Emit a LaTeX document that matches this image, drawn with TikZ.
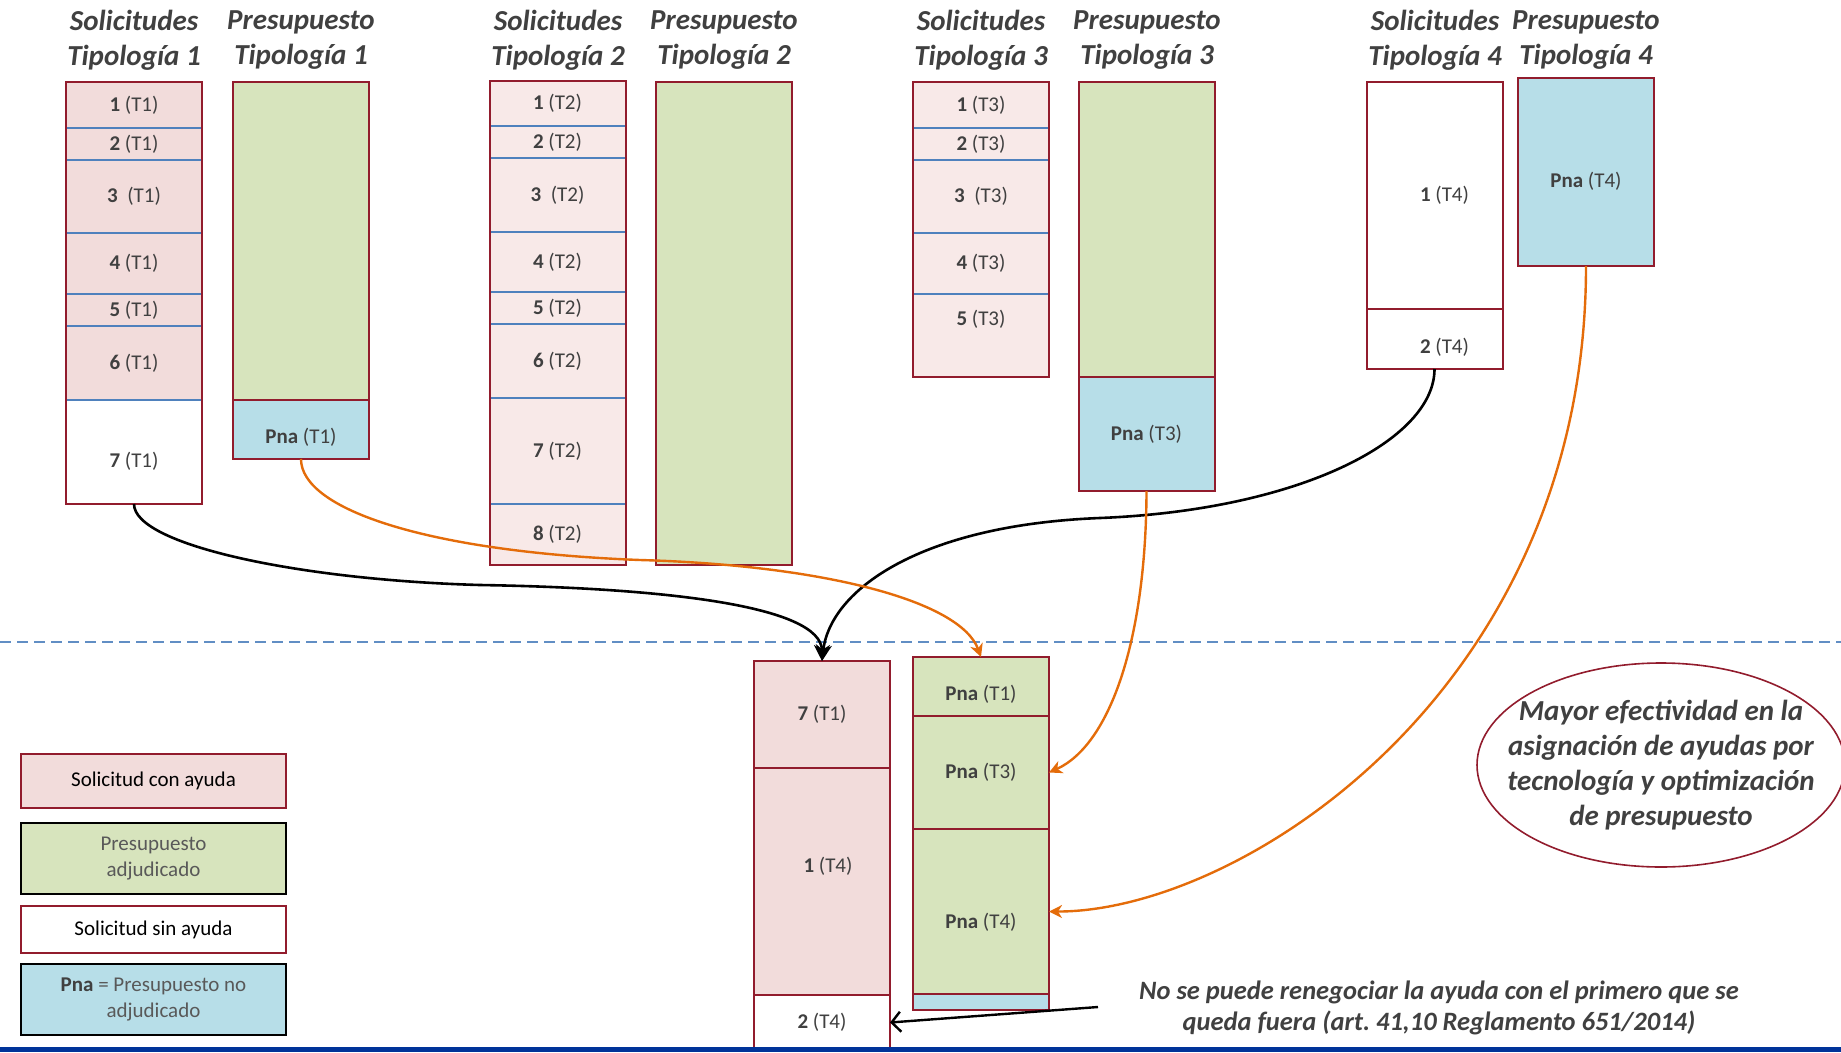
\documentclass[tikz,border=0pt]{standalone}
\usepackage{fontspec}
\setmainfont{Carlito}
\usetikzlibrary{arrows.meta,shapes.geometric}

\definecolor{framered}{RGB}{146,28,45}
\definecolor{pinkA}{RGB}{242,220,219}
\definecolor{pinkB}{RGB}{248,233,232}
\definecolor{budgetgreen}{RGB}{215,228,189}
\definecolor{pnablue}{RGB}{183,222,232}
\definecolor{divblue}{RGB}{79,129,189}
\definecolor{arrorange}{RGB}{228,108,10}
\definecolor{txtgray}{RGB}{64,64,64}
\definecolor{lightgray}{RGB}{89,89,89}
\definecolor{barnavy}{RGB}{0,51,153}

\newcommand{\etiq}[2]{\textbf{#1} #2}

\tikzset{
  title/.style={align=center, text=txtgray, font=\fontsize{29}{35}\selectfont\bfseries\itshape},
  cell/.style={minimum width=136pt, inner sep=0pt, outer sep=0pt, anchor=north, text=txtgray, font=\fontsize{21}{25}\selectfont},
  solA/.style={cell, fill=pinkA, draw=divblue, line width=1.6pt},
  solB/.style={cell, fill=pinkB, draw=divblue, line width=1.6pt},
  nosol/.style={cell, fill=white, draw=framered, line width=1.2pt},
  budget/.style={cell, fill=budgetgreen, draw=framered, line width=2pt},
  pna/.style={cell, fill=pnablue, draw=framered, line width=2pt},
  resA/.style={cell, fill=pinkA, draw=framered, line width=2pt},
  colframe/.style={draw=framered, line width=2pt},
  legend/.style={minimum width=265pt, inner sep=0pt, align=center, font=\fontsize{21}{26}\selectfont, line width=1.8pt},
  blackarr/.style={->, line width=2.6pt, black},
  orangearr/.style={->, line width=2.4pt, arrorange, >={Stealth[length=13pt,width=13pt,inset=4pt]}},
}

\begin{document}
\begin{tikzpicture}[x=1pt, y=-1pt, >={Stealth[length=16pt,width=16pt,inset=5pt]}]
        \useasboundingbox (0,0) rectangle (1841,1052);
        % cabeceras
        \node[title] (h1) at (134,40) {Solicitudes\\Tipología 1};
        \node[title] (h2) at (301,40) {Presupuesto\\Tipología 1};
        \node[title] (h3) at (558,40) {Solicitudes\\Tipología 2};
        \node[title] (h4) at (724,40) {Presupuesto\\Tipología 2};
        \node[title] (h5) at (981,40) {Solicitudes\\Tipología 3};
        \node[title] (h6) at (1147,40) {Presupuesto\\Tipología 3};
        \node[title] (h7) at (1435,40) {Solicitudes\\Tipología 4};
        \node[title] (h8) at (1586,40) {Presupuesto\\Tipología 4};
        % solicitudes tipologia 1
        \node[solA, minimum height=46pt] (s1a) at (134,82) {\etiq{1}{(T1)}};
        \node[solA, minimum height=32pt] (s1b) at (134,128) {\etiq{2}{(T1)}};
        \node[solA, minimum height=73pt] (s1c) at (134,160) {\etiq{3}{\ (T1)}};
        \node[solA, minimum height=61pt] (s1d) at (134,233) {\etiq{4}{(T1)}};
        \node[solA, minimum height=32pt] (s1e) at (134,294) {\etiq{5}{(T1)}};
        \node[solA, minimum height=74pt] (s1f) at (134,326) {\etiq{6}{(T1)}};
        \node[cell, draw=divblue, line width=1.6pt, minimum height=104pt, text height=34pt] (s1g) at (134,400) {\etiq{7}{(T1)}};
        \draw[colframe] (s1a.north west) rectangle (s1g.south east);
        % presupuesto tipologia 1
        \node[budget, minimum height=318pt] (p1a) at (301,82) {};
        \node[pna, minimum height=59pt, text height=31pt] (p1b) at (301,400) {\etiq{Pna}{(T1)}};
        % solicitudes tipologia 2
        \node[solB, minimum height=45pt] (s2a) at (557.5,81) {\etiq{1}{(T2)}};
        \node[solB, minimum height=32pt] (s2b) at (557.5,126) {\etiq{2}{(T2)}};
        \node[solB, minimum height=74pt] (s2c) at (557.5,158) {\etiq{3}{\ (T2)}};
        \node[solB, minimum height=60pt] (s2d) at (557.5,232) {\etiq{4}{(T2)}};
        \node[solB, minimum height=32pt] (s2e) at (557.5,292) {\etiq{5}{(T2)}};
        \node[solB, minimum height=74pt] (s2f) at (557.5,324) {\etiq{6}{(T2)}};
        \node[solB, minimum height=106pt] (s2g) at (557.5,398) {\etiq{7}{(T2)}};
        \node[solB, minimum height=61pt] (s2h) at (557.5,504) {\etiq{8}{(T2)}};
        \draw[colframe] (s2a.north west) rectangle (s2h.south east);
        % presupuesto tipologia 2
        \node[budget, minimum height=483pt] (p2a) at (724,82) {};
        % solicitudes tipologia 3
        \node[solB, minimum height=46pt] (s3a) at (981,82) {\etiq{1}{(T3)}};
        \node[solB, minimum height=32pt] (s3b) at (981,128) {\etiq{2}{(T3)}};
        \node[solB, minimum height=73pt] (s3c) at (981,160) {\etiq{3}{\ (T3)}};
        \node[solB, minimum height=61pt] (s3d) at (981,233) {\etiq{4}{(T3)}};
        \node[solB, minimum height=83pt, text depth=36pt] (s3e) at (981,294) {\etiq{5}{(T3)}};
        \draw[colframe] (s3a.north west) rectangle (s3e.south east);
        % presupuesto tipologia 3
        \node[budget, minimum height=295pt] (p3a) at (1146.5,82) {};
        \node[pna, minimum height=114pt] (p3b) at (1146.5,377) {\etiq{Pna}{(T3)}};
        % solicitudes tipologia 4
        \node[nosol, minimum height=227pt] (s4a) at (1434.5,82) {\hspace*{20pt}\etiq{1}{(T4)}};
        \node[nosol, minimum height=60pt, text height=32pt] (s4b) at (1434.5,309) {\hspace*{20pt}\etiq{2}{(T4)}};
        \draw[colframe] (s4a.north west) rectangle (s4b.south east);
        % presupuesto tipologia 4
        \node[pna, minimum height=188pt, text height=34pt] (p4) at (1586,78) {\etiq{Pna}{(T4)}};
        % separacion
        \draw[divblue!90, line width=2pt, dash pattern=on 11pt off 6pt] (0,642) -- (1841,642);
        % resultado
        \node[resA, minimum height=107pt] (r1a) at (822,661) {\etiq{7}{(T1)}};
        \node[resA, minimum height=227pt, text depth=33pt] (r1b) at (822,768) {\hspace*{12pt}\etiq{1}{(T4)}};
        \node[cell, fill=white, draw=framered, line width=2pt, minimum height=55pt] (r1c) at (822,995) {\etiq{2}{(T4)}};
        \node[budget, minimum height=59pt, text height=30pt] (r2a) at (981,657) {\etiq{Pna}{(T1)}};
        \node[budget, minimum height=113pt] (r2b) at (981,716) {\etiq{Pna}{(T3)}};
        \node[budget, minimum height=165pt, text height=37pt] (r2c) at (981,829) {\etiq{Pna}{(T4)}};
        \node[pna, minimum height=16pt] (r2d) at (981,994) {};
        % leyenda
        \node[legend, fill=pinkA, draw=framered, minimum height=54pt] (l1) at (153.5,781) {Solicitud con ayuda};
        \node[legend, fill=budgetgreen, draw=black, minimum height=71pt, text=lightgray] (l2) at (153.5,858.5) {Presupuesto\\adjudicado};
        \node[legend, fill=white, draw=framered, minimum height=47pt] (l3) at (153.5,929.5) {Solicitud sin ayuda};
        \node[legend, fill=pnablue, draw=black, minimum height=71pt, text=lightgray] (l4) at (153.5,999.5) {\textcolor{txtgray}{\textbf{Pna}} = Presupuesto no\\adjudicado};
        % textos
        \node[ellipse, draw=framered, line width=1.6pt, minimum width=368pt, minimum height=204pt, inner xsep=-24pt, inner ysep=0pt, align=center, text=txtgray, font=\fontsize{29}{35}\selectfont\bfseries\itshape] (goal) at (1661,765) {Mayor efectividad en la\\asignación de ayudas por\\tecnología y optimización\\de presupuesto};
        \node[align=center, text=txtgray, font=\fontsize{26.5}{31}\selectfont\bfseries\itshape] (nota) at (1439,1008) {No se puede renegociar la ayuda con el primero que se\\queda fuera (art.\ 41,10 Reglamento 651/2014)};
        \coordinate (notafrom) at (1098,1007);
        % flechas
        \draw[blackarr] (s1g.south) .. controls (134,545) and (300,580) .. (480,585) .. controls (660,588) and (822,605) .. (r1a.north);
        \draw[blackarr] (s4b.south) .. controls (1434.5,440) and (1300,510) .. (1100,518) .. controls (920,525) and (830,590) .. (r1a.north);
        \draw[orangearr] (p1b.south) .. controls (301,510) and (430,552) .. (640,560) .. controls (820,565) and (960,600) .. (r2a.north);
        \draw[orangearr] (p3b.south) .. controls (1146,640) and (1110,745) .. (r2b.east);
        \draw[orangearr] (p4.south) .. controls (1586,690) and (1240,912) .. (r2c.east);
        \draw[line width=2.4pt, -{Straight Barb[length=9pt,width=20pt]}] (notafrom) -- (r1c.east);
        % barra inferior
        \fill[barnavy] (0,1047) rectangle (1841,1052);
    \end{tikzpicture}
\end{document}
